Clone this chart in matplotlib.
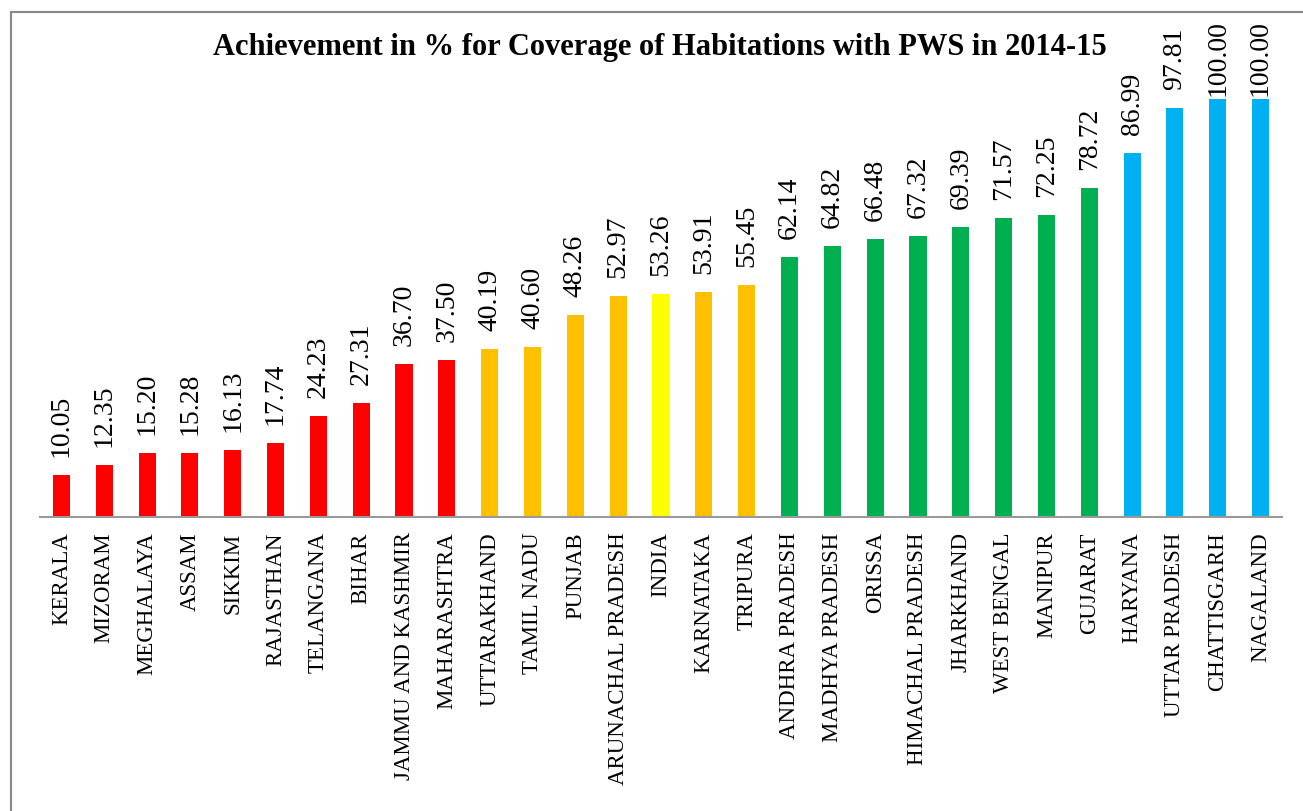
import matplotlib.pyplot as plt
from matplotlib.lines import Line2D

states = ["KERALA", "MIZORAM", "MEGHALAYA", "ASSAM", "SIKKIM", "RAJASTHAN",
          "TELANGANA", "BIHAR", "JAMMU AND KASHMIR", "MAHARASHTRA",
          "UTTARAKHAND", "TAMIL NADU", "PUNJAB", "ARUNACHAL PRADESH", "INDIA",
          "KARNATAKA", "TRIPURA", "ANDHRA PRADESH", "MADHYA PRADESH", "ORISSA",
          "HIMACHAL PRADESH", "JHARKHAND", "WEST BENGAL", "MANIPUR", "GUJARAT",
          "HARYANA", "UTTAR PRADESH", "CHATTISGARH", "NAGALAND"]
achievement = [10.05, 12.35, 15.20, 15.28, 16.13, 17.74, 24.23, 27.31, 36.70,
               37.50, 40.19, 40.60, 48.26, 52.97, 53.26, 53.91, 55.45, 62.14,
               64.82, 66.48, 67.32, 69.39, 71.57, 72.25, 78.72, 86.99, 97.81,
               100.00, 100.00]
groups = ["low"] * 10 + ["mid"] * 4 + ["india"] + ["mid"] * 2 + ["good"] * 8 + ["full"] * 4

GROUP_COLORS = {
    "low": "#FF0000",
    "mid": "#FFC000",
    "india": "#FFFF00",
    "good": "#00B050",
    "full": "#00B0F0",
}

plt.rcParams['font.family'] = ['Liberation Serif', 'DejaVu Serif']

W, H = 1303, 811
fig = plt.figure(figsize=(W / 100, H / 100), dpi=100)
ax = fig.add_axes([40 / W, (H - 517) / H, (1282 - 40) / W, (517 - 99) / H])

x = range(len(states))
colors = [GROUP_COLORS[g] for g in groups]
ax.bar(x, achievement, width=0.4, color=colors)

labels = []
for xi, v in zip(x, achievement):
    t = ax.annotate(f"{v:.2f}", (xi, v), xytext=(0, 18), textcoords="offset pixels",
                    rotation=90, ha="center", va="bottom", fontsize=20,
                    annotation_clip=False)
    labels.append(t)

ax.set_xlim(-0.5, len(states) - 0.5)
ax.set_ylim(0, 100)
ax.set_xticks(list(x))
ax.set_xticklabels(states, rotation=90, fontsize=16.5)
ax.tick_params(axis="x", length=0, pad=11)
ax.set_yticks([])
for s in ["top", "right", "left"]:
    ax.spines[s].set_visible(False)
ax.spines["bottom"].set_color("#999999")
ax.spines["bottom"].set_linewidth(1.5)

fig.text(660 / W, 1 - 48 / H,
         "Achievement in % for Coverage of Habitations with PWS in 2014-15",
         ha="center", va="center", fontsize=22, fontweight="bold")

# outer chart frame (only top and left edges are visible)
fig.add_artist(Line2D([11 / W, 1], [1 - 12 / H, 1 - 12 / H], color="#888888", lw=1.5))
fig.add_artist(Line2D([11 / W, 11 / W], [0, 1 - 12 / H], color="#888888", lw=1.5))

# keep data labels inside the chart frame, like Excel does
fig.canvas.draw()
renderer = fig.canvas.get_renderer()
for t in labels:
    bb = t.get_window_extent(renderer)
    over = bb.y1 - (H - 22)
    if over > 0:
        dx, dy = t.xyann
        t.xyann = (dx, max(dy - over, 3))

fig.savefig("out.png", dpi=100)
